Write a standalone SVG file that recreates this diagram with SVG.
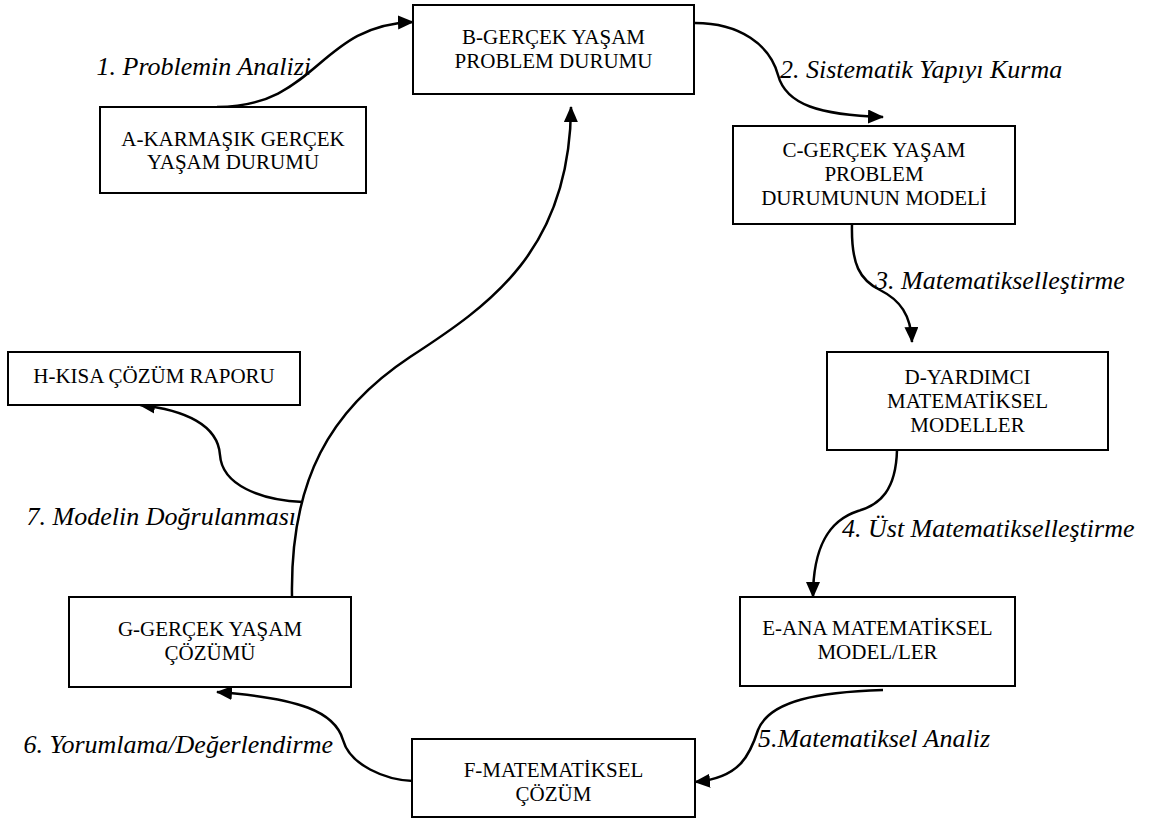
<svg xmlns="http://www.w3.org/2000/svg" width="1150" height="818" viewBox="0 0 1150 818">
<defs>
<style>
.box{fill:#fff;stroke:#000;stroke-width:2}
.t{font-size:21px;fill:#000;text-anchor:middle}
.lb{font-size:26px;font-style:italic;fill:#000}
.c{fill:none;stroke:#000;stroke-width:2.5}
</style>
<marker id="ah" markerUnits="userSpaceOnUse" markerWidth="17" markerHeight="15" refX="15" refY="7" orient="auto">
<path d="M0,0 L16,7 L0,14 z" fill="#000"/>
</marker>
</defs>
<rect width="1150" height="818" fill="#fff"/>

<g id="connectors">
<path class="c" marker-end="url(#ah)" d="M217,107 C318,107 318,25 413,22"/>
<path class="c" marker-end="url(#ah)" d="M695,23 C740,23 770,45 778,75 C786,105 820,115 883,117"/>
<path class="c" marker-end="url(#ah)" d="M852,224 C851,265 860,280 880,290 C900,300 911,315 912,342"/>
<path class="c" marker-end="url(#ah)" d="M897,450 C896,490 880,505 858,511 C830,520 813,545 813,597"/>
<path class="c" marker-end="url(#ah)" d="M883,690 C820,692 770,700 758,730 C750,755 740,778 695,782"/>
<path class="c" marker-end="url(#ah)" d="M413,781 C385,780 350,765 343,740 C335,712 300,698 217,692"/>
<path class="c" marker-end="url(#ah)" d="M292,597 C290,480 330,410 410,357 C490,305 570,250 571,107"/>
<path class="c" marker-end="url(#ah)" d="M303,502 C260,500 222,485 220,455 C218,425 185,410 140,405"/>
</g>

<g id="labels" font-family="Liberation Serif, Times New Roman, Times, DejaVu Serif, serif">
<text class="lb" x="311" y="75" text-anchor="end">1. Problemin Analizi</text>
<text class="lb" x="780" y="78">2. Sistematik Yapıyı Kurma</text>
<text class="lb" x="875" y="289">3. Matematikselleştirme</text>
<text class="lb" x="842" y="537">4. Üst Matematikselleştirme</text>
<text class="lb" x="758" y="747">5.Matematiksel Analiz</text>
<text class="lb" x="333" y="753" text-anchor="end">6. Yorumlama/Değerlendirme</text>
<text class="lb" x="296" y="525" text-anchor="end">7. Modelin Doğrulanması</text>
</g>

<g id="nodes" font-family="Liberation Serif, Times New Roman, Times, DejaVu Serif, serif">
<g id="node-A">
<rect class="box" x="100" y="107" width="266" height="86"/>
<text class="t" x="233" y="146">A-KARMAŞIK GERÇEK</text>
<text class="t" x="233" y="169">YAŞAM DURUMU</text>
</g>
<g id="node-B">
<rect class="box" x="413" y="5" width="281" height="89"/>
<text class="t" x="553.5" y="44">B-GERÇEK YAŞAM</text>
<text class="t" x="553.5" y="68">PROBLEM DURUMU</text>
</g>
<g id="node-C">
<rect class="box" x="733" y="126" width="282" height="98"/>
<text class="t" x="874" y="157">C-GERÇEK YAŞAM</text>
<text class="t" x="874" y="181">PROBLEM</text>
<text class="t" x="874" y="205">DURUMUNUN MODELİ</text>
</g>
<g id="node-D">
<rect class="box" x="827" y="352" width="281" height="98"/>
<text class="t" x="967.5" y="384">D-YARDIMCI</text>
<text class="t" x="967.5" y="408">MATEMATİKSEL</text>
<text class="t" x="967.5" y="432">MODELLER</text>
</g>
<g id="node-E">
<rect class="box" x="740" y="597" width="275" height="89"/>
<text class="t" x="877.5" y="635">E-ANA MATEMATİKSEL</text>
<text class="t" x="877.5" y="659">MODEL/LER</text>
</g>
<g id="node-F">
<rect class="box" x="412" y="739" width="283" height="78"/>
<text class="t" x="553.5" y="777">F-MATEMATİKSEL</text>
<text class="t" x="553.5" y="801">ÇÖZÜM</text>
</g>
<g id="node-G">
<rect class="box" x="69" y="597" width="282" height="90"/>
<text class="t" x="210" y="636">G-GERÇEK YAŞAM</text>
<text class="t" x="210" y="660">ÇÖZÜMÜ</text>
</g>
<g id="node-H">
<rect class="box" x="8" y="352" width="292" height="53"/>
<text class="t" x="154" y="383">H-KISA ÇÖZÜM RAPORU</text>
</g>
</g>
</svg>
